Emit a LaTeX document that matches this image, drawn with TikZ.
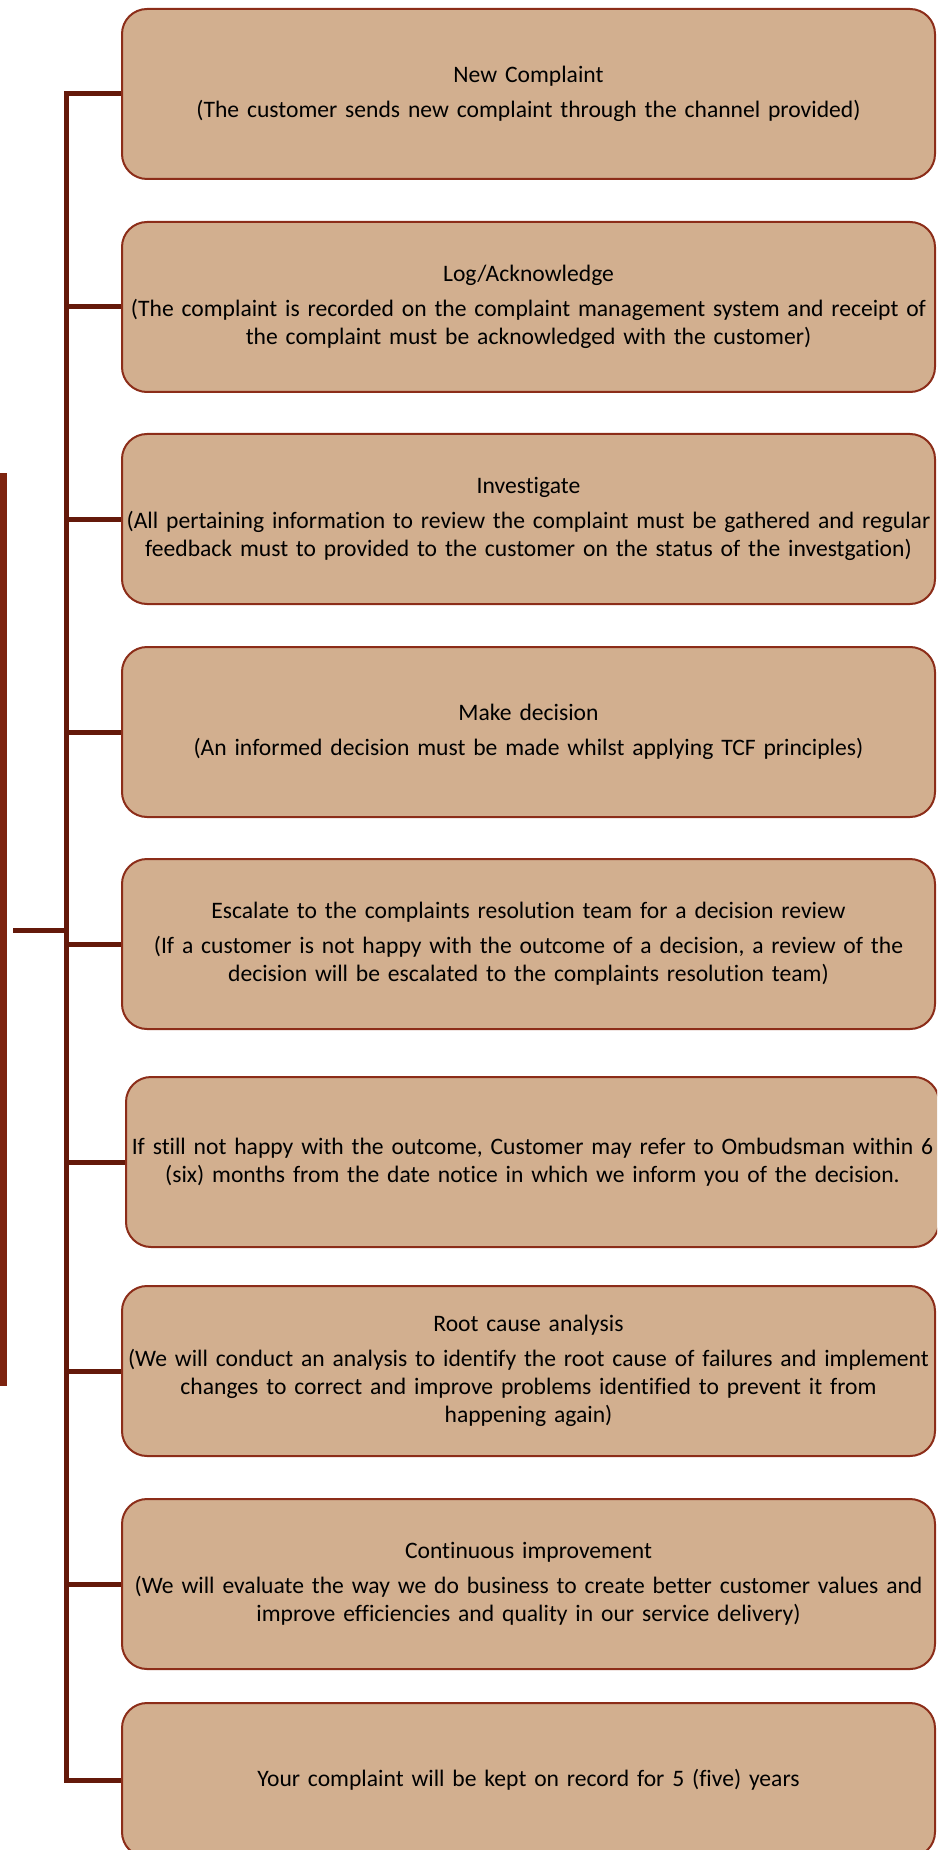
\documentclass[tikz,border=0pt]{standalone}
\usepackage{fontspec}
\setmainfont{Carlito}[Ligatures={NoCommon}]
\usepackage{xcolor}
\usepackage{tikz}
\definecolor{box_fill}{HTML}{D2AF8F}
\definecolor{box_edge}{HTML}{8C2D19}
\definecolor{line_brown}{HTML}{64190A}
\definecolor{bar_brown}{HTML}{7D230F}

\tikzset{
    stage/.style={draw=box_edge, fill=box_fill, line width=1pt, rounded corners=12.5pt,
        minimum width=406.5pt, minimum height=85pt, text width=404pt, align=center,
        inner sep=0pt, font=\fontsize{11.8}{14}\selectfont},
    trunk/.style={line_brown, line width=2.5pt}
}

\begin{document}
\begin{tikzpicture}[x=0.5pt, y=-0.5pt]
                \useasboundingbox (0,0) rectangle (937,1850);
                \clip (0,0) rectangle (937,1850);
                % left bar
                \fill[bar_brown] (0,473) rectangle (7,1386);
                \coordinate (stub) at (13,930);
                \coordinate (hub) at (66,930);
                % stages
                \node[stage] (s1) at (528.5,94) {New Complaint\\[3.5pt](The customer sends new complaint through the channel provided)};
                \node[stage] (s2) at (528.5,307) {Log/Acknowledge\\[3.5pt](The complaint is recorded on the complaint management system and receipt of\\the complaint must be acknowledged with the customer)};
                \node[stage] (s3) at (528.5,519) {Investigate\\[3.5pt](All pertaining information to review the complaint must be gathered and regular\\feedback must to provided to the customer on the status of the investgation)};
                \node[stage] (s4) at (528.5,732) {Make decision\\[3.5pt](An informed decision must be made whilst applying TCF principles)};
                \node[stage] (s5) at (528.5,944) {Escalate to the complaints resolution team for a decision review\\[3.5pt](If a customer is not happy with the outcome of a decision, a review of the\\decision will be escalated to the complaints resolution team)};
                \node[stage] (s6) at (532.5,1162) {If still not happy with the outcome, Customer may refer to Ombudsman within 6\\(six) months from the date notice in which we inform you of the decision.};
                \node[stage] (s7) at (528.5,1371) {Root cause analysis\\[3.5pt](We will conduct an analysis to identify the root cause of failures and implement\\changes to correct and improve problems identified to prevent it from\\happening again)};
                \node[stage] (s8) at (528.5,1584) {Continuous improvement\\[3.5pt](We will evaluate the way we do business to create better customer values and\\improve efficiencies and quality in our service delivery)};
                \node[stage, minimum height=77pt] (s9) at (528.5,1780) {Your complaint will be kept on record for 5 (five) years};
                % connectors
                \draw[trunk] (s1.west) -- (s1.west -| hub) |- (s9.west);
                \foreach \i in {2,...,8}
                    \draw[trunk] (s\i.west -| hub) -- (s\i.west);
                \draw[trunk] (stub) -- (hub);

            \end{tikzpicture}
\end{document}
